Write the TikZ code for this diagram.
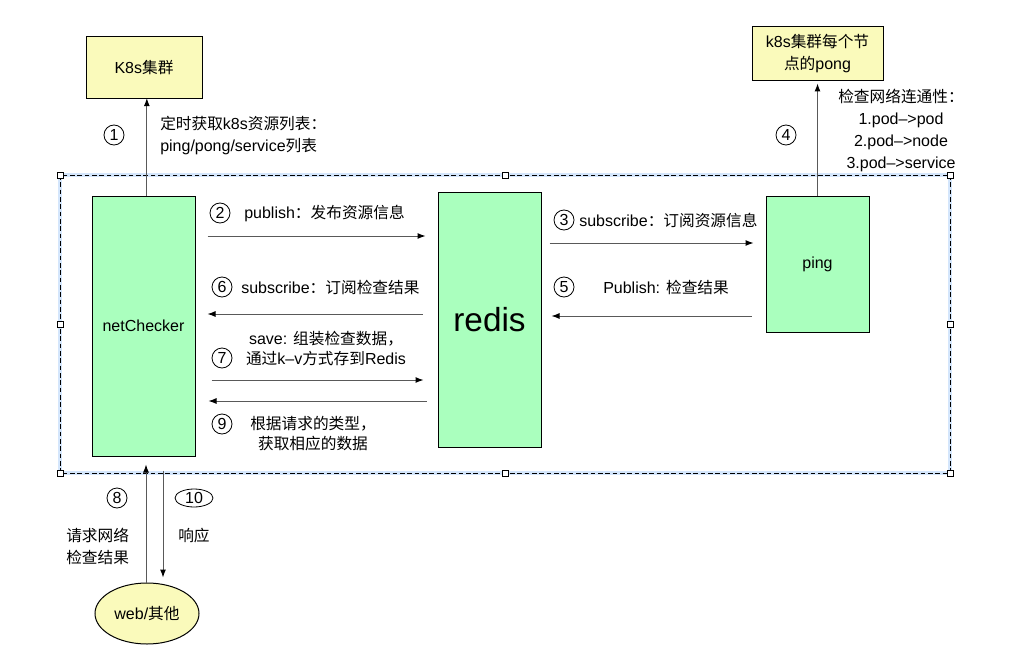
\documentclass[tikz,border=0pt]{standalone}
\usepackage{fontspec}
\setmainfont{Liberation Sans}
\newfontfamily\cjk[Scale=0.98]{Noto Sans CJK SC}
\usepackage{tikz}
\usetikzlibrary{arrows.meta, shapes.geometric}
\definecolor{verde}{RGB}{170,255,190}
\definecolor{amarillo}{RGB}{250,250,187}
\definecolor{seleccion}{RGB}{212,230,252}

\begin{document}
\begin{tikzpicture}[x=0.75pt, y=-0.75pt, font=\fontsize{12pt}{16.5pt}\selectfont,
    caja/.style={draw=black, line width=0.75pt, fill=verde, minimum width=77.25pt, inner sep=0pt},
    nota/.style={draw=black, line width=0.75pt, fill=amarillo, inner sep=0pt, align=center},
    flecha/.style={draw=black!65, line width=0.75pt, -{Latex[length=6pt, width=4.5pt, color=black]}},
    num/.style={circle, draw=black, line width=0.6pt, inner sep=0pt, minimum size=15pt},
    texto/.style={inner sep=0pt, anchor=west, align=left}]
            \useasboundingbox (0,0) rectangle (1009,663);

            % Marco de seleccion
            \draw[seleccion, line width=3.5pt] (60,175) rectangle (950,473);
            \draw[black, line width=0.6pt, dash pattern=on 3.5pt off 2pt] (60,175) rectangle (950,473);
            % Tiradores
            \filldraw[fill=white, draw=black, line width=0.6pt] (57,172) rectangle (63,178);
            \filldraw[fill=white, draw=black, line width=0.6pt] (502,172) rectangle (508,178);
            \filldraw[fill=white, draw=black, line width=0.6pt] (947,172) rectangle (953,178);
            \filldraw[fill=white, draw=black, line width=0.6pt] (57,321) rectangle (63,327);
            \filldraw[fill=white, draw=black, line width=0.6pt] (947,321) rectangle (953,327);
            \filldraw[fill=white, draw=black, line width=0.6pt] (57,470) rectangle (63,476);
            \filldraw[fill=white, draw=black, line width=0.6pt] (502,470) rectangle (508,476);
            \filldraw[fill=white, draw=black, line width=0.6pt] (947,470) rectangle (953,476);

            % Cajas
            \node[nota, minimum width=87pt, minimum height=46.5pt] (k8s) at (144,68) {K8s{\cjk 集群}};
            \node[nota, minimum width=98.25pt, minimum height=40.5pt] (pong) at (817.5,54) {k8s{\cjk 集群每个节}\\{\cjk 点的}pong};
            \node[caja, minimum height=195pt] (netchecker) at (143.5,326) {netChecker};
            \node[caja, minimum height=191.25pt, font=\fontsize{25pt}{30pt}\selectfont] (redis) at (489.5,319.5) {redis};
            \node[caja, minimum height=102pt] (ping) at (817.5,264) {ping};
            \node[nota, ellipse, minimum width=78pt, minimum height=45.75pt] (web) at (147,613.5) {web/{\cjk 其他}};

            % Flechas
            \draw[flecha, shorten >=-1pt] ([xshift=2.5pt]netchecker.north) -- ([xshift=2.5pt]netchecker.north |- k8s.south);
            \draw[flecha, shorten >=1.5pt] (ping.north) -- (pong.south);
            \draw[flecha, shorten <=9pt, shorten >=9pt] (netchecker.east |- 0,236) -- (redis.west |- 0,236);
            \draw[flecha, shorten <=6pt, shorten >=9pt] (redis.east |- 0,243) -- (ping.west |- 0,243);
            \draw[flecha, shorten <=10.5pt, shorten >=7.5pt] (ping.west |- 0,316) -- (redis.east |- 0,316);
            \draw[flecha, shorten <=11.25pt, shorten >=9pt] (redis.west |- 0,314) -- (netchecker.east |- 0,314);
            \draw[flecha, shorten <=12pt, shorten >=10.5pt] (netchecker.east |- 0,380) -- (redis.west |- 0,380);
            \draw[flecha, shorten <=8.25pt, shorten >=9.75pt] (redis.west |- 0,401) -- (netchecker.east |- 0,401);
            \draw[flecha, shorten >=6pt] ([xshift=-0.75pt]web.north) -- ([xshift=-0.75pt]web.north |- netchecker.south);
            \draw[flecha, shorten <=10.5pt, shorten >=3.75pt] ([xshift=12pt]web.north |- netchecker.south) -- ([xshift=12pt]web.north);

            % Etiquetas
            \node[num] (n1) at (114,135) {1};
            \node[texto] (t1) at (160,136) {{\cjk 定时获取}k8s{\cjk 资源列表：}\\ping/pong/service{\cjk 列表}};
            \node[num] (n2) at (220,213) {2};
            \node[texto] (t2) at (244,213) {publish{\cjk ：发布资源信息}};
            \node[num] (n3) at (564,220) {3};
            \node[texto] (t3) at (579,220) {subscribe{\cjk ：订阅资源信息}};
            \node[num] (n4) at (786,135) {4};
            \node[texto, align=center, anchor=center] (t4) at (901,130) {{\cjk 检查网络连通性：}\\1.pod–>pod\\2.pod–>node\\3.pod–>service};
            \node[num] (n5) at (564,287) {5};
            \node[texto] (t5) at (603,287) {Publish: {\cjk 检查结果}};
            \node[num] (n6) at (222,287) {6};
            \node[texto] (t6) at (241,287) {subscribe{\cjk ：订阅检查结果}};
            \node[num] (n7) at (222,358) {7};
            \node[texto, align=center, anchor=center] (t7) at (326,348) {save: {\cjk 组装检查数据，}\\[-1.5pt]{\cjk 通过}k–v{\cjk 方式存到}Redis};
            \node[num] (n9) at (222,424) {9};
            \node[texto, align=center, anchor=center] (t9) at (313,434) {{\cjk 根据请求的类型，}\\[-1.5pt]{\cjk 获取相应的数据}};
            \node[num] (n8) at (117,498) {8};
            \node[num, ellipse, minimum width=28.5pt, minimum height=13.5pt] (n10) at (194,498) {10};
            \node[texto] (t8) at (66,546) {{\cjk 请求网络}\\{\cjk 检查结果}};
            \node[texto] (t10) at (178,536) {\cjk 响应};
        \end{tikzpicture}
\end{document}
